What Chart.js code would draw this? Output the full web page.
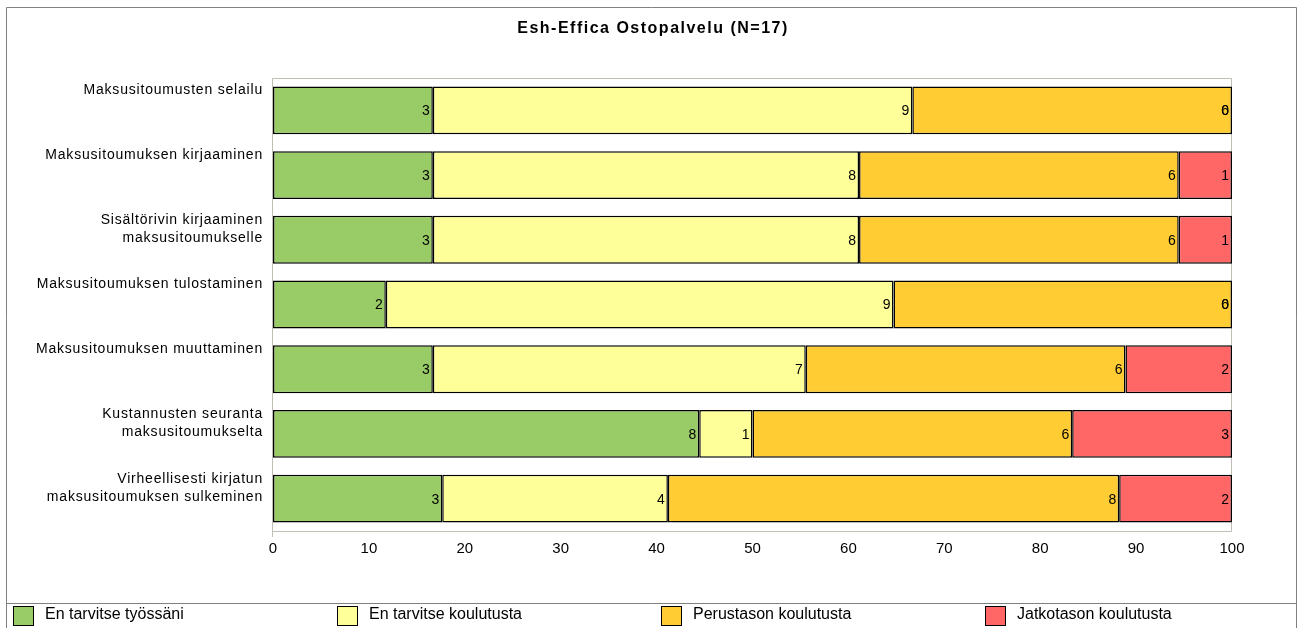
<!DOCTYPE html>
<html>
<head>
<meta charset="utf-8">
<script src="https://cdn.jsdelivr.net/npm/chart.js@4.4.1/dist/chart.umd.min.js"></script>
<style>
html,body{margin:0;padding:0;background:#fff;}
canvas{display:block;}
</style>
</head>
<body>
<canvas id="c" width="1303" height="628"></canvas>
<script>
const title = 'Esh-Effica Ostopalvelu (N=17)';
const categories = [
  ['Maksusitoumusten selailu'],
  ['Maksusitoumuksen kirjaaminen'],
  ['Sisältörivin kirjaaminen', 'maksusitoumukselle'],
  ['Maksusitoumuksen tulostaminen'],
  ['Maksusitoumuksen muuttaminen'],
  ['Kustannusten seuranta', 'maksusitoumukselta'],
  ['Virheellisesti kirjatun', 'maksusitoumuksen sulkeminen']
];
const seriesNames = ['En tarvitse työssäni', 'En tarvitse koulutusta', 'Perustason koulutusta', 'Jatkotason koulutusta'];
const enTyossani   = [3, 3, 3, 2, 3, 8, 3];
const enKoulutusta = [9, 8, 8, 9, 7, 1, 4];
const perustaso    = [6, 6, 6, 6, 6, 6, 8];
const jatkotaso    = [0, 1, 1, 0, 2, 3, 2];
const xTicks = [0, 10, 20, 30, 40, 50, 60, 70, 80, 90, 100];
const colors = ['#99CC66', '#FFFF99', '#FFCC33', '#FF6666'];

const counts = [enTyossani, enKoulutusta, perustaso, jatkotaso];
const totals = categories.map((_, i) => counts.reduce((s, a) => s + a[i], 0));
const pct = arr => arr.map((v, i) => v / totals[i] * 100);

const FONT = '"Liberation Sans", Arial, sans-serif';

const framePlugin = {
  id: 'frame',
  beforeDatasetsDraw(chart) {
    const {ctx, chartArea: a} = chart;
    ctx.save();
    ctx.strokeStyle = '#c0bdb5';
    ctx.lineWidth = 1;
    ctx.beginPath();
    ctx.rect(Math.round(a.left) - 0.5, Math.round(a.top) + 0.5, Math.round(a.right - a.left), Math.round(a.bottom - a.top));
    ctx.moveTo(Math.round(a.left) - 0.5, a.bottom);
    ctx.lineTo(Math.round(a.left) - 0.5, a.bottom + 6);
    ctx.stroke();
    ctx.restore();
  },
  afterDraw(chart) {
    const {ctx} = chart;
    const a = chart.chartArea;
    const yScale = chart.scales.y;
    ctx.save();
    // outer border and legend separator
    ctx.strokeStyle = '#808080';
    ctx.lineWidth = 1;
    ctx.beginPath();
    ctx.moveTo(6.5, 640); ctx.lineTo(6.5, 7.5); ctx.lineTo(1296.5, 7.5); ctx.lineTo(1296.5, 640);
    ctx.moveTo(6.5, 603.5); ctx.lineTo(1296.5, 603.5);
    ctx.stroke();
    // title
    ctx.fillStyle = '#000';
    ctx.textBaseline = 'middle';
    ctx.textAlign = 'center';
    ctx.font = 'bold 16px ' + FONT;
    ctx.letterSpacing = '1.5px';
    ctx.fillText(title, 653, 29);
    // category labels
    ctx.font = '14px ' + FONT;
    ctx.letterSpacing = '0.8px';
    ctx.textAlign = 'right';
    categories.forEach((lines, i) => {
      const yc = yScale.getPixelForTick(i);
      lines.forEach((ln, j) => {
        ctx.fillText(ln, a.left - 10, yc - 20 + j * 18);
      });
    });
    // value labels
    ctx.letterSpacing = '0px';
    chart.data.datasets.forEach((ds, di) => {
      const meta = chart.getDatasetMeta(di);
      meta.data.forEach((bar, i) => {
        ctx.fillText(String(counts[di][i]), bar.x - 3, bar.y + 1);
      });
    });
    // legend
    ctx.textAlign = 'left';
    ctx.font = '16px ' + FONT;
    seriesNames.forEach((name, i) => {
      const x = 13 + i * 324;
      ctx.fillStyle = colors[i];
      ctx.fillRect(x, 606, 21, 20);
      ctx.strokeStyle = '#000';
      ctx.strokeRect(x + 0.5, 606.5, 20, 19);
      ctx.fillStyle = '#000';
      ctx.fillText(name, x + 32, 615);
    });
    ctx.restore();
  }
};

new Chart(document.getElementById('c'), {
  type: 'bar',
  data: {
    labels: categories.map(l => l.join(' ')),
    datasets: counts.map((arr, i) => ({
      label: seriesNames[i],
      data: pct(arr),
      backgroundColor: colors[i],
      borderColor: '#000',
      borderWidth: 1.5,
      borderSkipped: false,
      categoryPercentage: 1,
      barPercentage: 0.74
    }))
  },
  options: {
    indexAxis: 'y',
    responsive: false,
    animation: false,
    devicePixelRatio: 1,
    layout: { padding: { left: 273, right: 71, top: 78, bottom: 61 } },
    scales: {
      x: {
        stacked: true,
        min: 0, max: 100,
        afterBuildTicks: s => { s.ticks = xTicks.map(v => ({value: v})); },
        grid: { display: false, drawTicks: false },
        border: { display: false },
        ticks: { color: '#000', font: { family: FONT, size: 15 }, padding: 9, maxRotation: 0 }
      },
      y: {
        stacked: true,
        display: false
      }
    },
    plugins: {
      legend: { display: false },
      tooltip: { enabled: false },
      title: { display: false }
    }
  },
  plugins: [framePlugin]
});
</script>
</body>
</html>
